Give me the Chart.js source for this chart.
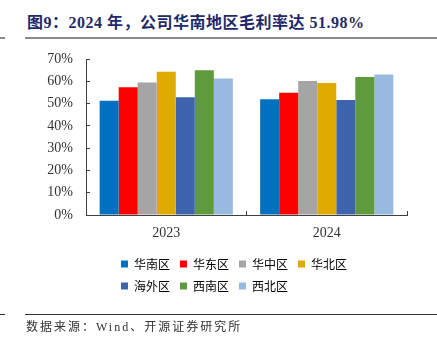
<!DOCTYPE html>
<html>
<head>
<meta charset="utf-8">
<script src="https://cdn.jsdelivr.net/npm/chart.js@4.4.1/dist/chart.umd.min.js"></script>
<style>
  body { margin: 0; width: 437px; height: 349px; position: relative; background: #fff; overflow: hidden; }
  #region-margin { position: absolute; left: 0; top: 0; }
  .title { position: absolute; left: 27px; top: 13px; font: bold 16px "Liberation Serif", "Noto Sans CJK SC"; color: #1f2a6b; line-height: 20px; white-space: nowrap; letter-spacing: 0.5px; }
  .source { position: absolute; left: 26px; top: 319px; font: 12px "Liberation Serif", "Noto Sans CJK SC"; color: #333; line-height: 16px; white-space: nowrap; letter-spacing: 2px; }
  .rule { position: absolute; height: 1px; }
</style>
</head>
<body>
<div class="title">图9：2024 年，公司华南地区毛利率达 51.98%</div>
<div class="rule" style="left:0;width:5px;top:37px;height:2px;background:#8a8a8a"></div>
<div class="rule" style="left:25px;right:0;top:37px;height:2px;background:#8a8a8a"></div>
<div class="rule" style="left:0;width:5px;top:314px;background:#333"></div>
<div class="rule" style="left:25px;right:0;top:314px;background:#333"></div>
<canvas id="region-margin" width="437" height="349"></canvas>
<div class="source">数据来源：Wind、开源证券研究所</div>
<script>
const years = ["2023", "2024"]
const regions = ["华南区", "华东区", "华中区", "华北区", "海外区", "西南区", "西北区"]
// gross margin, %
const south = [51.3, 51.98]
const east = [57.3, 54.9]
const central = [59.5, 60.1]
const north = [64.3, 59.2]
const overseas = [52.8, 51.6]
const southwest = [65.0, 61.9]
const northwest = [61.2, 63.0]
const yTicks = [0, 10, 20, 30, 40, 50, 60, 70]
const colors = ["#0070c0", "#ff0000", "#a5a5a5", "#e0ab00", "#3d64ad", "#5f9a3c", "#98b9e0"]

const seriesList = [south, east, central, north, overseas, southwest, northwest]

// move the legend so both rows start at the same left edge, like the source chart
const legendPlacer = {
  id: "legendPlacer",
  afterLayout(chart) {
    const lg = chart.legend
    lg.left = 111
    lg.right = 400
    lg.width = lg.right - lg.left
    lg.top = 248
    lg.bottom = lg.top + lg.height
  }
}

Chart.defaults.font.family = "Liberation Serif"
Chart.defaults.color = "#333"

const ctx = document.getElementById("region-margin").getContext("2d")
new Chart(ctx, {
  type: "bar",
  data: {
    labels: years,
    datasets: regions.map((name, i) => ({
      label: name,
      data: seriesList[i],
      backgroundColor: colors[i],
      borderWidth: 0,
      categoryPercentage: 0.83,
      barPercentage: 1
    }))
  },
  options: {
    responsive: false,
    animation: false,
    devicePixelRatio: 1,
    layout: { padding: { top: 59, right: 30, bottom: 47, left: 0 } },
    scales: {
      x: {
        grid: { drawOnChartArea: false, tickLength: -4, color: "#404040", offset: true },
        border: { color: "#404040", width: 1 },
        ticks: { font: { size: 14 }, color: "#333", padding: 14 },
        afterFit: (scale) => { scale.height = 33 }
      },
      y: {
        min: 0,
        max: 70,
        afterBuildTicks: (scale) => { scale.ticks = yTicks.map((v) => ({ value: v })) },
        grid: { drawOnChartArea: false, tickLength: -4, color: "#404040" },
        border: { color: "#404040", width: 1 },
        ticks: { font: { size: 14 }, color: "#333", padding: 17, callback: (v) => v + "%" },
        afterFit: (scale) => { scale.width = 86 }
      }
    },
    plugins: {
      tooltip: { enabled: false },
      legend: {
        position: "bottom",
        align: "start",
        labels: {
          boxWidth: 7,
          boxHeight: 7,
          padding: 10,
          color: "#000",
          font: { family: "Noto Sans CJK SC", size: 12 }
        }
      }
    }
  },
  plugins: [legendPlacer]
})
</script>
</body>
</html>
